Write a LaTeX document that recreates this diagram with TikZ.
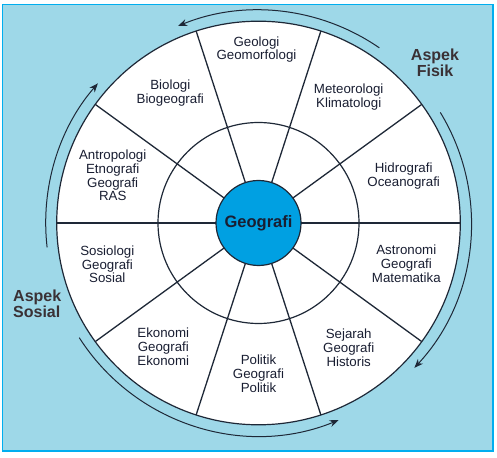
\documentclass[tikz,border=0pt]{standalone}
\usepackage{fontspec}
\setmainfont{Liberation Sans}
\usetikzlibrary{arrows.meta}
\definecolor{bgc}{RGB}{158,216,232}
\definecolor{bordc}{RGB}{0,174,239}
\definecolor{hubc}{RGB}{0,160,226}
\definecolor{linec}{RGB}{30,40,55}
\definecolor{txtc}{RGB}{25,30,50}
\tikzset{
  lab/.style={align=center, text=txtc, font=\fontsize{13.3}{13.8}\selectfont, inner sep=0pt},
  aspek/.style={text=txtc!80!brown, font=\fontsize{16}{16}\selectfont\bfseries, inner sep=0pt},
  spoke/.style={draw=linec, line width=1.3pt},
  arcline/.style={draw=linec, line width=1pt, -{Stealth[length=9pt,width=7pt]}},
}
\begin{document}
\begin{tikzpicture}[x=1pt,y=1pt]
\useasboundingbox (0,0) rectangle (497,457);
\fill[white] (0,0) rectangle (497,457);
\draw[bordc, fill=bgc, line width=1.6pt] (2.5,6) rectangle (493,452.5);
\coordinate (O) at (258.5,234);
\node[circle, draw=linec, fill=white, line width=1.2pt, minimum size=403.6pt, inner sep=0pt, outer sep=0pt] (outer) at (O) {};
\node[circle, draw=linec, line width=1.2pt, minimum size=201pt, inner sep=0pt, outer sep=0pt] (ring) at (O) {};
\node[circle, minimum size=85pt, inner sep=0pt, outer sep=0pt] (hubpos) at (O) {};
\foreach \a in {0,36,...,324} {
  \draw[spoke] (hubpos.\a) -- (outer.\a);
}
\node[circle, draw=linec, fill=hubc, line width=1.2pt, minimum size=85pt, inner sep=0pt, font=\fontsize{16.5}{16.5}\selectfont\bfseries, text=txtc] (hub) at (O) {Geografi};
% labels
\node[lab] (geo) at (256.5,407.5) {Geologi\\Geomorfologi};
\node[lab] (met) at (348.7,360) {Meteorologi\\Klimatologi};
\node[lab] (hid) at (403.7,281) {Hidrografi\\Oceanografi};
\node[lab] (ast) at (406.3,193.3) {Astronomi\\Geografi\\Matematika};
\node[lab] (sej) at (348.7,109.2) {Sejarah\\Geografi\\Historis};
\node[lab] (pol) at (258.5,83) {Politik\\Geografi\\Politik};
\node[lab] (eko) at (163.3,110) {Ekonomi\\Geografi\\Ekonomi};
\node[lab] (sos) at (107.3,192.7) {Sosiologi\\Geografi\\Sosial};
\node[lab] (ant) at (112.7,281.5) {Antropologi\\Etnografi\\Geografi\\RAS};
\node[lab] (bio) at (170.3,364) {Biologi\\Biogeografi};
% aspects
\node[aspek, align=center] (fisik) at (435,394) {Aspek\\Fisik};
\node[aspek, align=left, anchor=west] (sosial) at (13,153) {Aspek\\Sosial};
% arrows
\draw[arcline] (O) ++(55.4:212.8) arc[start angle=55.4, end angle=112.2, radius=212.8];
\draw[arcline] (O) ++(31.3:212.8) arc[start angle=31.3, end angle=-42.9, radius=212.8];
\draw[arcline] (O) ++(-147.4:212.8) arc[start angle=-147.4, end angle=-67.9, radius=212.8];
\draw[arcline] (O) ++(186.6:212.8) arc[start angle=186.6, end angle=139, radius=212.8];
\end{tikzpicture}
\end{document}
